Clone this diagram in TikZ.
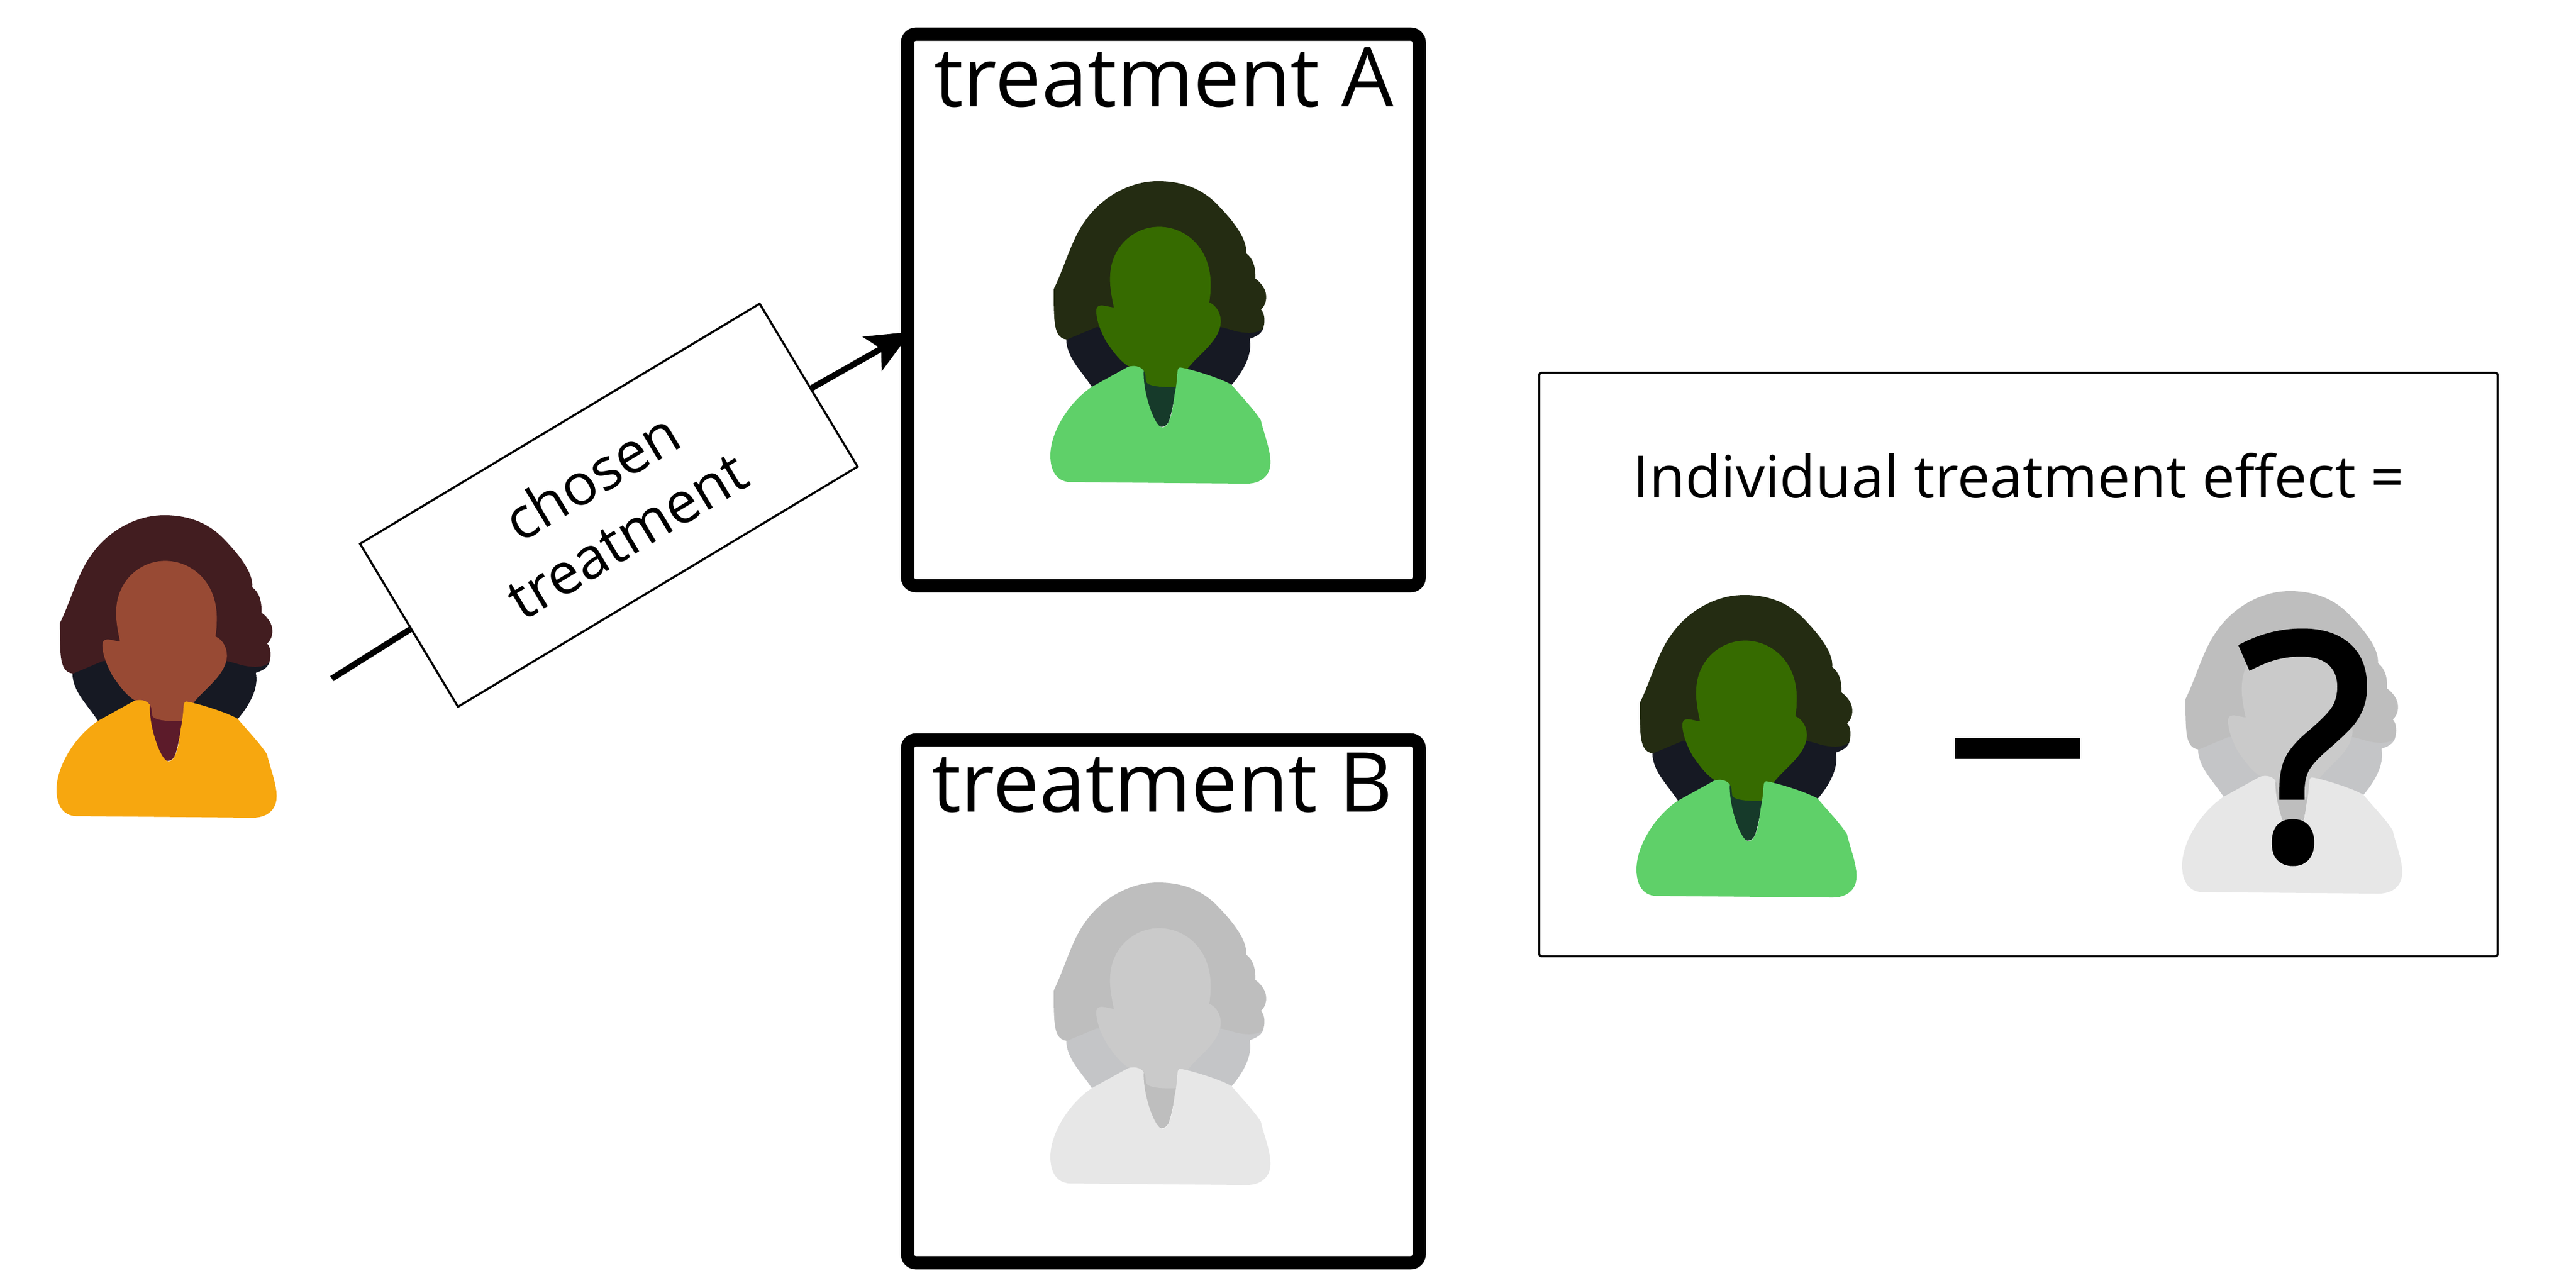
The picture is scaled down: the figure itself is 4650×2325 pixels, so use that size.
\documentclass[tikz,border=0pt]{standalone}
\usepackage{fontspec}
\setmainfont{Open Sans}
\newfontfamily\qmarkfont[FakeBold=1.7]{Open Sans}
\usetikzlibrary{arrows.meta,positioning}

\definecolor{hairbrown}{HTML}{421D20}
\definecolor{backdark}{HTML}{161923}
\definecolor{facebrown}{HTML}{984A34}
\definecolor{shirtorange}{HTML}{F7A70F}
\definecolor{throatbrown}{HTML}{5C1B2A}
\definecolor{hairgreen}{HTML}{242C12}
\definecolor{facegreen}{HTML}{366B00}
\definecolor{shirtgreen}{HTML}{5FD069}
\definecolor{throatgreen}{HTML}{163A2A}
\definecolor{hairgray}{HTML}{BEBEBE}
\definecolor{backgray}{HTML}{C4C5C7}
\definecolor{facegray}{HTML}{CACACA}
\definecolor{shirtgray}{HTML}{E7E7E7}

\tikzset{
  treatbox/.style={draw,rectangle,line width=2.4mm,rounded corners=1.5mm,minimum width=9.23cm,inner sep=0pt},
  effectbox/.style={draw,rectangle,line width=.38mm,rounded corners=.4mm,minimum width=17.29cm,minimum height=10.53cm,inner sep=0pt},
  chosenbox/.style={draw,fill=white,rectangle,line width=.38mm,rotate=31,minimum width=8.41cm,minimum height=3.43cm,align=center,inner sep=0pt,font=\fontsize{29.5}{35}\selectfont},
  biglabel/.style={anchor=base,inner sep=0pt,font=\fontsize{42.4}{48}\selectfont},
  midlabel/.style={anchor=base,inner sep=0pt,font=\fontsize{30}{36}\selectfont},
  thinline/.style={line width=1.1mm},
  thickarrow/.style={line width=1.1mm,shorten >=-2.1mm,-{Stealth[length=8mm,width=7mm,inset=1.8mm]}}
}

\newcommand{\personfig}[7]{
  \begin{scope}[shift={(#1,#2)},xscale=.3325,yscale=.398,shift={(-125,-75)}]
    \fill[#4] (212,780) .. controls (205,870) and (290,930) .. (352,1010) -- (1108,1000) .. controls (1170,940) and (1225,860) .. (1207,790) .. controls (1240,780) and (1270,770) .. (1282,740) -- (1050,700) -- (375,700) -- cycle;
    \fill[#3] (143,565) .. controls (200,470) and (240,340) .. (310,260) .. controls (390,160) and (540,75) .. (710,75) .. controls (860,75) and (960,120) .. (1030,180) .. controls (1100,240) and (1195,330) .. (1188,402) .. controls (1225,425) and (1240,465) .. (1238,517) .. controls (1275,540) and (1297,570) .. (1297,600) .. controls (1297,625) and (1285,645) .. (1268,657) .. controls (1290,675) and (1292,715) .. (1280,742) .. controls (1250,770) and (1180,765) .. (1130,755) .. controls (1090,745) and (1070,740) .. (1050,737) -- (375,737) -- (215,793) .. controls (165,790) and (150,750) .. (146,690) .. controls (143,650) and (143,600) .. (143,565) -- cycle;
    \fill[#7] (625,930) .. controls (625,1030) and (680,1150) .. (705,1180) .. controls (720,1195) and (755,1195) .. (770,1160) .. controls (790,1110) and (800,1040) .. (815,1000) -- (815,950) -- cycle;
    \fill[#5] (470,648) .. controls (455,590) and (445,540) .. (450,495) .. controls (460,370) and (580,282) .. (715,282) .. controls (860,282) and (1000,380) .. (995,550) .. controls (995,580) and (992,600) .. (988,625) .. controls (1030,640) and (1052,680) .. (1050,715) .. controls (1045,800) and (930,860) .. (870,925) -- (810,1008) .. controls (760,1010) and (660,1010) .. (645,985) -- (640,950) -- (630,930) -- (550,915) .. controls (500,890) and (460,840) .. (430,805) .. controls (400,760) and (370,700) .. (375,655) .. controls (385,625) and (430,645) .. (470,648) -- cycle;
    \fill[#6] (632,935) .. controls (610,910) and (570,910) .. (545,918) -- (350,1008) .. controls (230,1075) and (125,1210) .. (125,1320) .. controls (125,1395) and (165,1437) .. (230,1440) -- (1190,1447) .. controls (1270,1447) and (1320,1410) .. (1320,1350) .. controls (1320,1290) and (1280,1210) .. (1268,1160) .. controls (1230,1110) and (1160,1050) .. (1108,998) .. controls (1050,970) and (900,930) .. (830,920) .. controls (820,920) and (816,930) .. (815,940) .. controls (812,990) and (805,1020) .. (800,1040) .. controls (790,1100) and (780,1190) .. (732,1192) .. controls (690,1190) and (625,1030) .. (632,935) -- cycle;
  \end{scope}
}

\begin{document}
\begin{tikzpicture}[x=.01cm,y=-.01cm]
  \useasboundingbox (0,0) rectangle (4650,2325);

  \personfig{102}{930}{hairbrown}{backdark}{facebrown}{shirtorange}{throatbrown}{}
  \personfig{1896}{327}{hairgreen}{backdark}{facegreen}{shirtgreen}{throatgreen}{}
  \personfig{1896}{1593}{hairgray}{backgray}{facegray}{shirtgray}{hairgray}{}
  \personfig{2954}{1074}{hairgreen}{backdark}{facegreen}{shirtgreen}{throatgreen}{}
  \personfig{3939}{1067}{hairgray}{backgray}{facegray}{shirtgray}{hairgray}{}

  \node[treatbox,minimum height=9.95cm] (boxA) at (2100,559.5) {};
  \node[treatbox,minimum height=9.43cm] (boxB) at (2100,1807.5) {};
  \node[effectbox] (effect) at (3643.5,1199.5) {};
  \node[chosenbox] (chosen) at (1099,912) {chosen\\treatment};

  \coordinate (start) at (599,1225);
  \draw[thinline] (start) -- (chosen.181.6);
  \draw[thickarrow] (chosen.-1.6) -- (boxA.186);

  \node[biglabel] (labelA) at (2101,193) {treatment A};
  \node[biglabel] (labelB) at (2098,1465) {treatment B};
  \node[midlabel] (effectlabel) at (3644,899) {Individual treatment effect =};
  \node[fill=black,minimum width=2.25cm,minimum height=.38cm,inner sep=0pt] (minus) at (3642,1351) {};
  \node[inner sep=0pt,font=\fontsize{161.5}{170}\qmarkfont] (qmark) at (4161,1349) {?};
\end{tikzpicture}
\end{document}
